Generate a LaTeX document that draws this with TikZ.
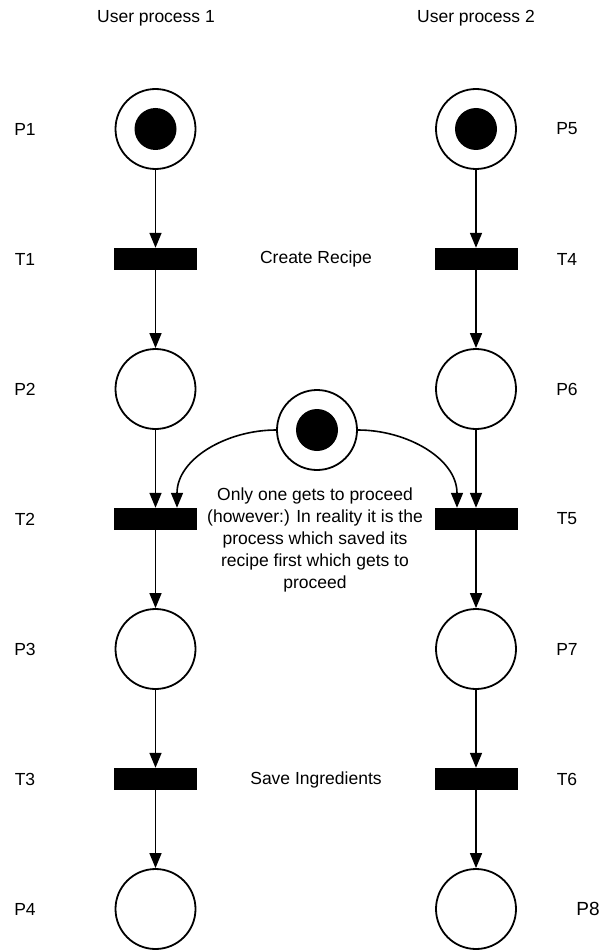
\documentclass[tikz,border=0pt]{standalone}
\usepackage{fontspec}
\setmainfont{Liberation Sans}
\usetikzlibrary{arrows.meta}

\begin{document}
\begin{tikzpicture}[x=1pt,y=-1pt,
  place/.style={circle,draw,line width=1.8pt,minimum size=80pt,inner sep=0pt},
  token/.style={circle,fill=black,minimum size=42pt,inner sep=0pt},
  trans/.style={rectangle,fill=black,minimum width=83pt,minimum height=22pt,inner sep=0pt},
  lbl/.style={font=\fontsize{17.5}{22}\selectfont},
  arc/.style={line width=1.6pt,-{Triangle[length=15pt,width=12pt]}}]

\useasboundingbox (0,0) rectangle (601,952);

% column headers
\node[lbl] (h1) at (156,18) {User process 1};
\node[lbl] (h2) at (476,18) {User process 2};

% left process
\node[place] (p1) at (155.5,129) {};
\node[token] (p1tok) at (155.5,129) {};
\node[trans] (t1) at (155.5,259) {};
\node[place] (p2) at (155.5,389) {};
\node[trans] (t2) at (155.5,519) {};
\node[place] (p3) at (155.5,649) {};
\node[trans] (t3) at (155.5,779) {};
\node[place] (p4) at (155.5,909) {};

% right process
\node[place] (p5) at (476,129) {};
\node[token] (p5tok) at (476,129) {};
\node[trans] (t4) at (476,259) {};
\node[place] (p6) at (476,389) {};
\node[trans] (t5) at (476,519) {};
\node[place] (p7) at (476,649) {};
\node[trans] (t6) at (476,779) {};
\node[place] (p8) at (476,909) {};

% shared mutex place
\node[place] (m) at (317,430) {};
\node[token] (mtok) at (317,430) {};

% flow arcs
\foreach \a/\b in {p1/t1,t1/p2,p2/t2,t2/p3,p3/t3,t3/p4,p5/t4,t4/p6,p6/t5,t5/p7,p7/t6,t6/p8}
  \draw[arc] (\a) -- (\b);
\draw[arc] (m.west) to[out=180,in=90] ([xshift=21.5pt]t2.north);
\draw[arc] (m.east) to[out=0,in=90] ([xshift=-19pt]t5.north);

% place / transition names
\foreach \n/\y in {P1/129,T1/259,P2/389,T2/519,P3/649,T3/779,P4/909}
  \node[lbl] (l\n) at (25,\y) {\n};
\foreach \n/\y in {P5/129,T4/259,P6/389,T5/519,P7/649,T6/779}
  \node[lbl] (l\n) at (567,\y) {\n};
\node[font=\fontsize{19}{22}\selectfont] (lP8) at (588,909) {P8};

% annotations
\node[lbl] (crt) at (316,259) {Create Recipe};
\node[lbl] (sav) at (316,780) {Save Ingredients};
\node[lbl,align=center] (note) at (315,540) {Only one gets to proceed\\(however:) In reality it is the\\process which saved its\\recipe first which gets to\\proceed};
\end{tikzpicture}
\end{document}
